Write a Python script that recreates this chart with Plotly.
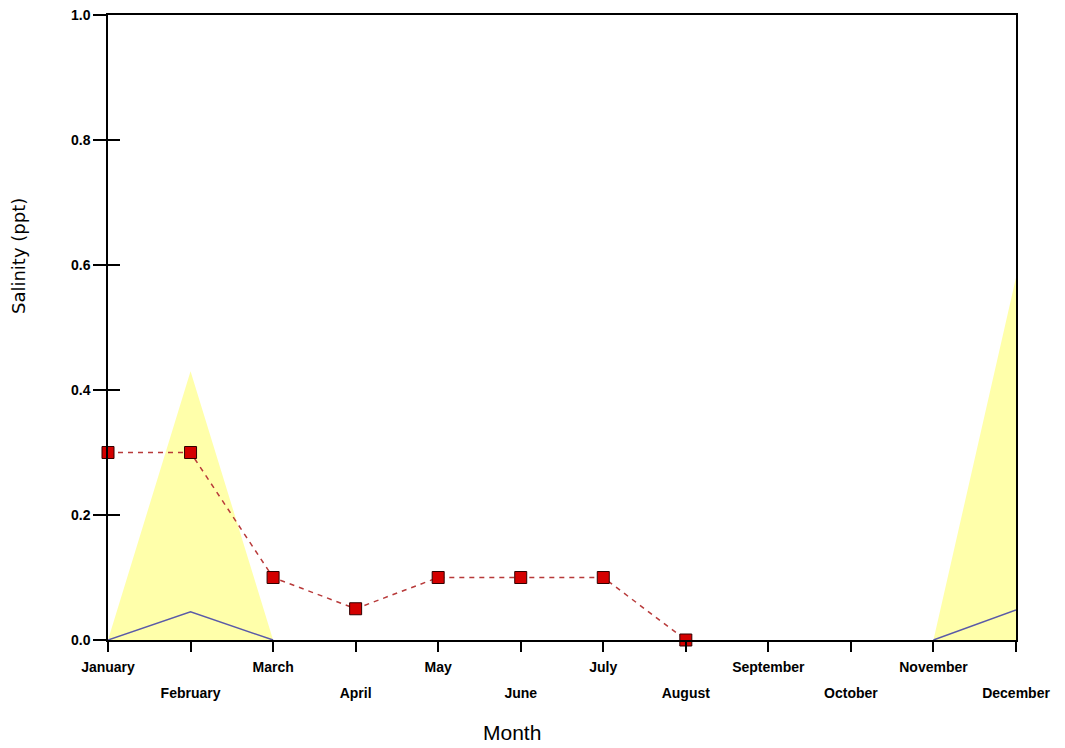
import plotly.graph_objects as go

months = ["January", "February", "March", "April", "May", "June", "July",
          "August", "September", "October", "November", "December"]
mean_vals = [0.3, 0.3, 0.1, 0.05, 0.1, 0.1, 0.1, 0.0, None, None, None, None]
max_vals = [0.0, 0.43, 0.0, None, None, None, None, None, None, None, 0.0, 0.58]
min_vals = [0.0, 0.045, 0.0, None, None, None, None, None, None, None, 0.0, 0.048]
y_ticks = [0.0, 0.2, 0.4, 0.6, 0.8, 1.0]

x = list(range(len(months)))
odd_idx = [i for i in x if i % 2 == 1]
ticktext_main = [months[i] if i % 2 == 0 else "" for i in x]

fig = go.Figure()
fig.add_trace(go.Scatter(x=x, y=max_vals, mode="lines", fill="tozeroy",
                         line=dict(width=0, color="rgba(255,255,170,1)"),
                         fillcolor="rgb(255,255,170)", connectgaps=False,
                         hoverinfo="skip", showlegend=False))
fig.add_trace(go.Scatter(x=x, y=min_vals, mode="lines",
                         line=dict(width=1.5, color="#5a5aa8"), connectgaps=False,
                         showlegend=False))
fig.add_trace(go.Scatter(x=x, y=mean_vals, mode="lines+markers",
                         line=dict(width=1.5, color="#b83a3a", dash="5px,5px"),
                         marker=dict(symbol="square", size=12, color="#d40000",
                                     line=dict(width=1, color="#300000")),
                         cliponaxis=False, showlegend=False))
fig.add_trace(go.Scatter(x=[0], y=[0], xaxis="x2", yaxis="y2", mode="markers",
                         marker=dict(opacity=0), showlegend=False, hoverinfo="skip"))

tfont = dict(family="Liberation Sans, Arial", size=14, color="black", weight="bold")
fig.update_layout(
    width=1057, height=740,
    margin=dict(l=100, r=49, t=7, b=108, autoexpand=False),
    plot_bgcolor="white", paper_bgcolor="white",
    xaxis=dict(range=[0, 11], tickmode="array", tickvals=x, ticktext=ticktext_main,
               showgrid=False, zeroline=False, showline=True, linecolor="black",
               linewidth=1.5, mirror=True, ticks="outside", ticklen=10,
               tickwidth=1.5, tickcolor="black", tickfont=tfont, tickangle=0,
               ticklabelstandoff=3, automargin=False, ticklabeloverflow="allow"),
    xaxis2=dict(range=[0, 11], overlaying="x", side="bottom", anchor="y",
                tickmode="array", tickvals=odd_idx,
                ticktext=[months[i] for i in odd_idx],
                showgrid=False, zeroline=False, showline=False,
                ticks="outside", ticklen=10, tickcolor="rgba(0,0,0,0)",
                ticklabelstandoff=30, tickfont=tfont, tickangle=0,
                automargin=False, ticklabeloverflow="allow"),
    yaxis=dict(range=[0, 1], tickmode="array", tickvals=y_ticks,
               ticktext=[f"{v:.1f}" for v in y_ticks],
               showgrid=False, zeroline=False, showline=True, linecolor="black",
               linewidth=1.5, mirror=True, ticks="outside", ticklen=13,
               tickwidth=1.5, tickcolor="black", tickfont=tfont, automargin=False,
               ticklabeloverflow="allow"),
    yaxis2=dict(range=[0, 1], overlaying="y", side="left", anchor="x",
                tickmode="array", tickvals=y_ticks, showticklabels=False,
                showgrid=False, zeroline=False, showline=False, ticks="inside",
                ticklen=12, tickwidth=1.5, tickcolor="black", automargin=False),
    annotations=[
        dict(text="Month", xref="paper", yref="paper", x=(512 - 108) / 908,
             y=(640 - 732) / 625, xanchor="center", yanchor="middle",
             showarrow=False,
             font=dict(family="Liberation Sans, Arial", size=21, color="black")),
        dict(text="Salinity (ppt)", xref="paper", yref="paper", x=(18 - 108) / 908,
             y=(640 - 256) / 625, xanchor="center", yanchor="middle",
             showarrow=False, textangle=-90,
             font=dict(family="DejaVu Sans", size=18, color="black")),
    ],
)
fig.write_html("out.html")
